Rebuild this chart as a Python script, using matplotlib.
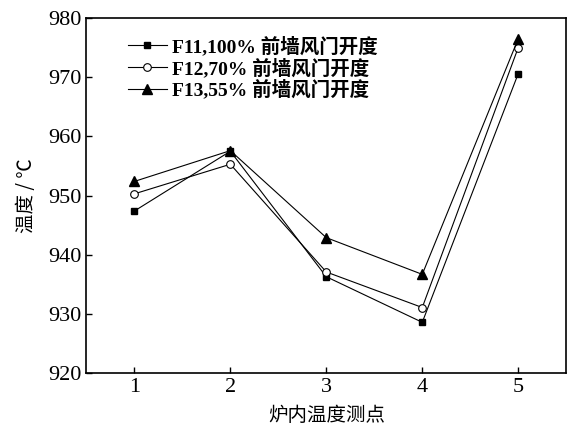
import matplotlib.pyplot as plt

plt.rcParams['font.family'] = ['Liberation Serif', 'Noto Sans CJK SC']

points = [1, 2, 3, 4, 5]
f11 = [947.4, 957.5, 936.3, 928.6, 970.6]
f12 = [950.3, 955.3, 937.1, 931.1, 975.0]
f13 = [952.4, 957.6, 942.9, 936.7, 976.5]
labels = ["F11,100% 前墙风门开度", "F12,70% 前墙风门开度", "F13,55% 前墙风门开度"]

fig, ax = plt.subplots(figsize=(5.76, 4.29), dpi=100)

ax.plot(points, f11, color="black", lw=0.8, marker="s", ms=4.5, mfc="black", label=labels[0])
ax.plot(points, f12, color="black", lw=0.8, marker="o", ms=5.5, mfc="white", mew=0.8, label=labels[1])
ax.plot(points, f13, color="black", lw=0.8, marker="^", ms=6.5, mfc="black", label=labels[2])

ax.set_xlim(0.5, 5.5)
ax.set_ylim(920, 980)
ax.set_xticks(points)
ax.set_yticks(range(920, 981, 10))
ax.tick_params(direction="in", labelsize=16, width=1, length=4)
for s in ax.spines.values():
    s.set_linewidth(1.2)

ax.set_xlabel("炉内温度测点", fontsize=14, family=['Noto Sans CJK SC'], labelpad=6)
ax.set_ylabel("温度 / ℃", fontsize=14, family=['Noto Sans CJK SC', 'DejaVu Sans'], labelpad=8)

leg = ax.legend(loc="upper left", bbox_to_anchor=(0.07, 0.97), frameon=False, handlelength=2.0,
                handletextpad=0.25, labelspacing=0.1, borderaxespad=0.0,
                prop={'family': ['Liberation Serif', 'Noto Sans CJK SC'], 'size': 14, 'weight': 'bold'})

plt.subplots_adjust(left=0.15, right=0.983, top=0.958, bottom=0.13)
plt.savefig("out.png", dpi=100)
